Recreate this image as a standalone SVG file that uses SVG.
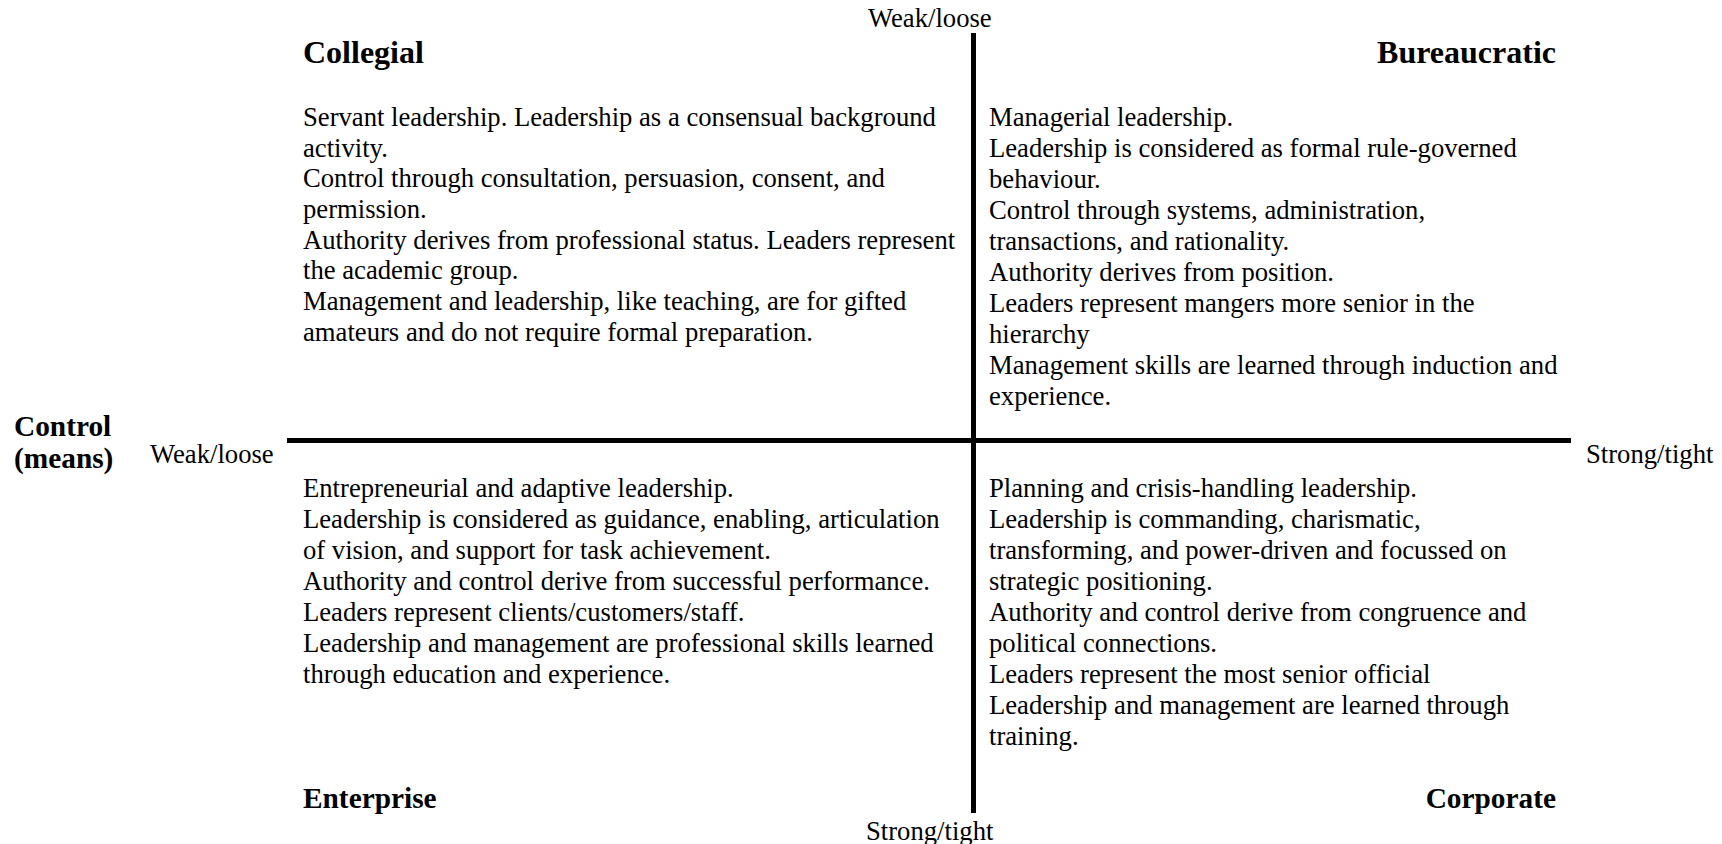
<svg xmlns="http://www.w3.org/2000/svg" width="1722" height="844" viewBox="0 0 1722 844">
<style>
text{font-family:"Liberation Serif","Times New Roman",serif;fill:#000}
.b{font-size:26.67px}
.h{font-size:32px;font-weight:bold}
.h2{font-size:29.33px;font-weight:bold}
.ax{stroke:#000;stroke-width:5;fill:none}
</style>
<rect width="1722" height="844" fill="#fff"/>
<g id="connectors">
<line class="ax" x1="973.5" y1="33" x2="973.5" y2="813"/>
<line class="ax" x1="287" y1="440.5" x2="1571" y2="440.5"/>
</g>
<g id="axis-labels">
<text class="b" x="868" y="27">Weak/loose</text>
<text class="b" x="866" y="840">Strong/tight</text>
<text class="b" x="150" y="463">Weak/loose</text>
<text class="b" x="1586" y="463">Strong/tight</text>
<text class="h2" x="14" y="436">Control</text>
<text class="h2" x="14" y="468">(means)</text>
</g>
<g id="collegial">
<text class="h" x="303" y="63">Collegial</text>
<text class="b">
<tspan x="303" y="126">Servant leadership. Leadership as a consensual background</tspan>
<tspan x="303" y="156.67">activity.</tspan>
<tspan x="303" y="187.33">Control through consultation, persuasion, consent, and</tspan>
<tspan x="303" y="218">permission.</tspan>
<tspan x="303" y="248.67">Authority derives from professional status. Leaders represent</tspan>
<tspan x="303" y="279.33">the academic group.</tspan>
<tspan x="303" y="310">Management and leadership, like teaching, are for gifted</tspan>
<tspan x="303" y="340.67">amateurs and do not require formal preparation.</tspan>
</text>
</g>
<g id="bureaucratic">
<text class="h" x="1556" y="63" text-anchor="end">Bureaucratic</text>
<text class="b">
<tspan x="989" y="126">Managerial leadership.</tspan>
<tspan x="989" y="157">Leadership is considered as formal rule-governed</tspan>
<tspan x="989" y="188">behaviour.</tspan>
<tspan x="989" y="219">Control through systems, administration,</tspan>
<tspan x="989" y="250">transactions, and rationality.</tspan>
<tspan x="989" y="281">Authority derives from position.</tspan>
<tspan x="989" y="312">Leaders represent mangers more senior in the</tspan>
<tspan x="989" y="343">hierarchy</tspan>
<tspan x="989" y="374">Management skills are learned through induction and</tspan>
<tspan x="989" y="405">experience.</tspan>
</text>
</g>
<g id="enterprise">
<text class="b">
<tspan x="303" y="497">Entrepreneurial and adaptive leadership.</tspan>
<tspan x="303" y="528">Leadership is considered as guidance, enabling, articulation</tspan>
<tspan x="303" y="559">of vision, and support for task achievement.</tspan>
<tspan x="303" y="590">Authority and control derive from successful performance.</tspan>
<tspan x="303" y="621">Leaders represent clients/customers/staff.</tspan>
<tspan x="303" y="652">Leadership and management are professional skills learned</tspan>
<tspan x="303" y="683">through education and experience.</tspan>
</text>
<text class="h2" x="303" y="808">Enterprise</text>
</g>
<g id="corporate">
<text class="b">
<tspan x="989" y="497">Planning and crisis-handling leadership.</tspan>
<tspan x="989" y="528">Leadership is commanding, charismatic,</tspan>
<tspan x="989" y="559">transforming, and power-driven and focussed on</tspan>
<tspan x="989" y="590">strategic positioning.</tspan>
<tspan x="989" y="621">Authority and control derive from congruence and</tspan>
<tspan x="989" y="652">political connections.</tspan>
<tspan x="989" y="683">Leaders represent the most senior official</tspan>
<tspan x="989" y="714">Leadership and management are learned through</tspan>
<tspan x="989" y="745">training.</tspan>
</text>
<text class="h2" x="1556" y="808" text-anchor="end">Corporate</text>
</g>
</svg>
